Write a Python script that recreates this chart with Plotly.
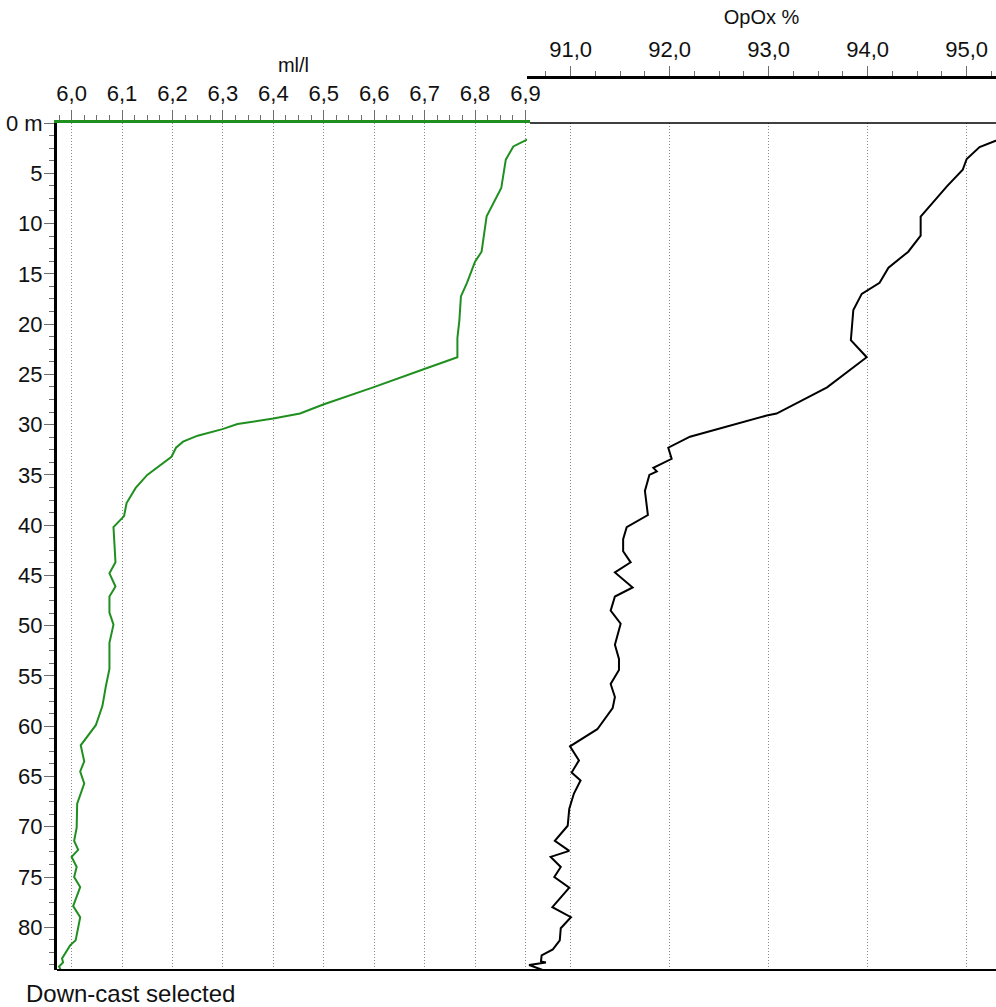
import plotly.graph_objects as go

# ---- data ----
depth_ml = [1.56, 2.33, 3.65, 4.65, 6.47, 9.29, 10.3, 12.8, 13.8, 15.9,
            17.25, 19.6, 21.4, 23.3, 24.5, 26.3, 28.0, 28.9, 29.4, 29.95,
            30.45, 31.1, 31.7, 32.3, 33.2, 35.0, 36.3, 37.8, 39.1, 40.2,
            43.7, 44.8, 46.1, 47.1, 48.7, 49.9, 51.7, 54.3, 56.0, 58.0,
            59.9, 61.9, 63.5, 64.5, 65.7, 67.7, 70.1, 71.4, 72.3, 73.0,
            74.0, 75.0, 76.0, 77.9, 79.0, 81.3, 81.8, 83.1, 83.5, 83.9, 84.2]
oxygen_ml = [6.907, 6.876, 6.861, 6.858, 6.852, 6.823, 6.820, 6.813, 6.800, 6.784,
             6.772, 6.769, 6.765, 6.765, 6.698, 6.598, 6.499, 6.453, 6.400, 6.329,
             6.299, 6.250, 6.221, 6.207, 6.198, 6.150, 6.127, 6.109, 6.104, 6.083,
             6.087, 6.075, 6.087, 6.075, 6.075, 6.083, 6.075, 6.075, 6.068, 6.061,
             6.048, 6.018, 6.025, 6.017, 6.025, 6.011, 6.010, 6.005, 6.013, 6.000,
             6.010, 6.005, 6.017, 6.003, 6.017, 6.008, 5.997, 5.981, 5.983, 5.975, 5.978]

depth_op = [1.5, 2.39, 3.58, 4.65, 6.3, 9.3, 11.2, 12.8, 14.4, 15.9,
            17.0, 18.6, 21.6, 23.3, 26.3, 28.9, 29.1, 31.2, 32.3, 33.4,
            34.3, 34.65, 35.0, 36.6, 39.0, 40.2, 41.4, 42.6, 43.7, 44.7,
            46.2, 47.1, 48.5, 49.8, 51.9, 53.3, 54.4, 55.8, 57.1, 58.2,
            60.3, 62.0, 63.4, 64.6, 65.4, 66.7, 68.2, 69.9, 71.4, 72.4,
            73.0, 74.0, 75.0, 76.05, 78.0, 79.0, 80.1, 81.3, 82.2, 82.8,
            83.4, 83.5, 83.75, 84.25]
opox_pct = [95.36, 95.13, 95.00, 94.96, 94.80, 94.535, 94.535, 94.41, 94.21, 94.12,
            93.94, 93.855, 93.83, 93.99, 93.59, 93.08, 92.98, 92.205, 91.986, 92.02,
            91.835, 91.87, 91.795, 91.75, 91.78, 91.566, 91.53, 91.53, 91.606, 91.447,
            91.626, 91.447, 91.404, 91.505, 91.447, 91.488, 91.488, 91.404, 91.447, 91.424,
            91.269, 90.993, 91.084, 91.01, 91.10, 91.033, 90.986, 90.97, 90.84, 90.986,
            90.798, 90.90, 90.835, 90.986, 90.815, 91.003, 90.90, 90.89, 90.82, 90.707,
            90.70, 90.75, 90.58, 90.717]

depth_ticks = [0, 5, 10, 15, 20, 25, 30, 35, 40, 45, 50, 55, 60, 65, 70, 75, 80]
depth_labels = ["0 m"] + [str(v) for v in depth_ticks[1:]]

FONT = "Liberation Sans, Arial, sans-serif"
TICKCOL = "#6e6e6e"
GRIDCOL = "#8a8a8a"
GRIDDASH = "1px,2px"
FS = 22

fig = go.Figure()
fig.add_trace(go.Scatter(x=oxygen_ml, y=depth_ml, mode="lines", xaxis="x", yaxis="y",
                         line=dict(color="#1f8f1f", width=2), showlegend=False,
                         hoverinfo="skip"))
fig.add_trace(go.Scatter(x=opox_pct, y=depth_op, mode="lines", xaxis="x2", yaxis="y",
                         line=dict(color="#000000", width=2), showlegend=False,
                         hoverinfo="skip"))

W, H = 996, 1007
L, R, T, B = 57, 0, 70, 37
ph = H - T - B          # 900
pw = W - L - R          # 939
y_top = (970 - 123) / ph
x1_end = (530 - L) / pw
x2_start = (527 - L) / pw
x2_pos = (970 - 77) / ph

fig.update_layout(
    width=W, height=H,
    margin=dict(l=L, r=R, t=T, b=B, pad=0),
    paper_bgcolor="white", plot_bgcolor="white",
    separators=",.",
    font=dict(family=FONT, size=FS, color="#111111"),
    xaxis=dict(
        domain=[0, x1_end], anchor="y", side="top",
        range=[5.971, 6.909], tick0=6.0, dtick=0.1, tickformat=".1f",
        showline=True, linecolor="#1f8f1f", linewidth=3,
        ticks="outside", ticklen=10, tickcolor=TICKCOL, tickwidth=1,
        minor=dict(dtick=0.025, tick0=6.0, ticks="outside", ticklen=5,
                   tickcolor=TICKCOL, showgrid=False),
        showgrid=True, gridcolor=GRIDCOL, griddash=GRIDDASH, gridwidth=1,
        zeroline=False, automargin=False,
        title=dict(text="ml/l", standoff=4, font=dict(size=20)),
        tickfont=dict(size=FS),
    ),
    xaxis2=dict(
        domain=[x2_start, 1], anchor="free", position=x2_pos, side="top",
        range=[90.559, 95.296], tick0=91, dtick=1, tickformat=".1f",
        showline=True, linecolor="#000000", linewidth=3,
        ticks="outside", ticklen=10, tickcolor=TICKCOL, tickwidth=1,
        minor=dict(dtick=0.25, tick0=91, ticks="outside", ticklen=5,
                   tickcolor=TICKCOL, showgrid=False),
        showgrid=True, gridcolor=GRIDCOL, griddash=GRIDDASH, gridwidth=1,
        zeroline=False, automargin=False,
        title=dict(text="OpOx %", standoff=6, font=dict(size=20)),
        tickfont=dict(size=FS),
    ),
    yaxis=dict(
        domain=[0, y_top], anchor="x",
        range=[84.25, 0], tickvals=depth_ticks, ticktext=depth_labels,
        showline=True, linecolor="#000000", linewidth=3,
        ticks="outside", ticklen=10, tickcolor=TICKCOL, tickwidth=1,
        minor=dict(dtick=1.25, tick0=0, ticks="outside", ticklen=5,
                   tickcolor=TICKCOL, showgrid=False),
        showgrid=False, zeroline=False, automargin=False,
        ticklabelstandoff=-3,
        tickfont=dict(size=FS),
    ),
    shapes=[
        dict(type="line", xref="paper", yref="paper", x0=0, x1=1, y0=0, y1=0,
             line=dict(color="#000000", width=2), layer="above"),
        dict(type="line", xref="paper", yref="paper", x0=x1_end, x1=1, y0=y_top, y1=y_top,
             line=dict(color="#000000", width=1.5), layer="above"),
    ],
    annotations=[
        dict(text="Down-cast selected", xref="paper", yref="paper",
             x=(24 - L) / pw, y=(970 - 993) / ph, xanchor="left", yanchor="middle",
             showarrow=False, font=dict(family=FONT, size=24, color="#111111")),
    ],
)

fig.write_html("out.html", config={"displayModeBar": False},
               post_script="document.body.style.margin='0';document.body.style.overflow='hidden';")
